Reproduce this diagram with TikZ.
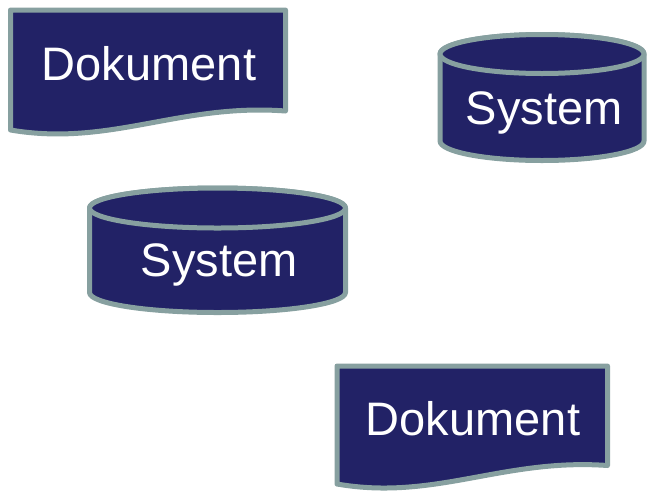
\documentclass[tikz,border=0pt]{standalone}
\usepackage{fontspec}
\setmainfont{Liberation Sans}
\usetikzlibrary{positioning}

\definecolor{navy}{HTML}{222266}
\definecolor{rim}{HTML}{87A0A0}

\begin{document}
\begin{tikzpicture}[
    x = 1pt, y = 1pt,
    shapebox/.style = {draw=rim, fill=navy, line width=5pt, line join=round},
    caption/.style = {anchor=base, inner sep=0pt, text=white, font=\fontsize{47}{50}\selectfont}
]
\useasboundingbox (0,-491) rectangle (647,0);

% Documents
\draw[shapebox] (10.5,-10) -- (285.5,-10) -- (285.5,-111)
    .. controls (180,-103) and (110,-147) .. (10.5,-130) -- cycle;
\draw[shapebox] (337,-366) -- (607.5,-366) -- (607.5,-465.5)
    .. controls (503,-458) and (435,-501) .. (337,-484) -- cycle;

% Systems (cylinders)
\draw[shapebox] (440,-54) -- (440,-141)
    arc[start angle=180, end angle=360, x radius=102pt, y radius=19.5pt] -- (644,-54)
    arc[start angle=0, end angle=180, x radius=102pt, y radius=19.5pt] -- cycle;
\draw[shapebox] (542,-54) ellipse [x radius=102pt, y radius=19.5pt];

\draw[shapebox] (89.5,-208) -- (89.5,-292.5)
    arc[start angle=180, end angle=360, x radius=128pt, y radius=20pt] -- (345.5,-208)
    arc[start angle=0, end angle=180, x radius=128pt, y radius=20pt] -- cycle;
\draw[shapebox] (217.5,-208) ellipse [x radius=128pt, y radius=20pt];

% Labels
\node[caption] (doca) at (149,-80) {Dokument};
\node[caption] (docb) at (473,-435) {Dokument};
\node[caption] (sysa) at (544,-124.5) {System};
\node[caption] (sysb) at (219,-276.5) {System};

\end{tikzpicture}
\end{document}
